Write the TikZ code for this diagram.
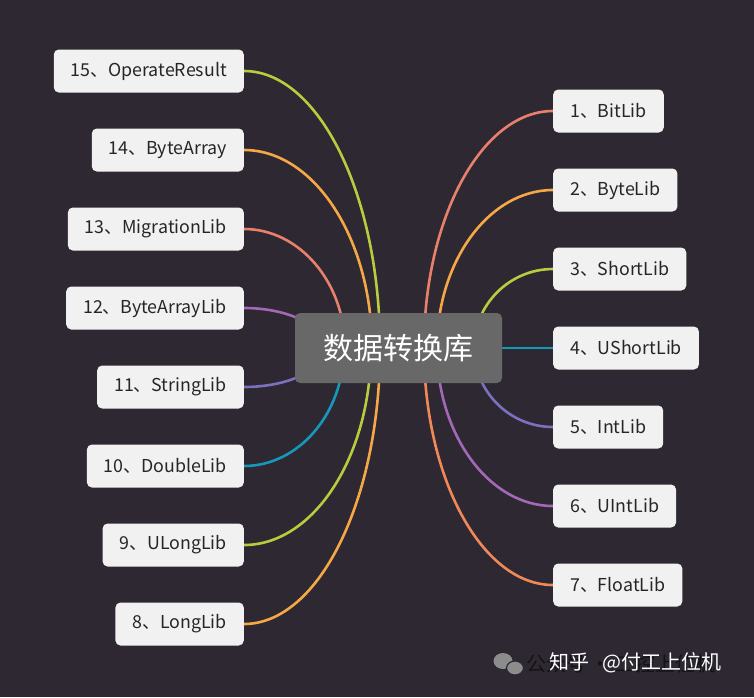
\documentclass[tikz,border=0pt]{standalone}
\usepackage{fontspec}
\usetikzlibrary{calc}
\newfontfamily\cjk{Noto Sans CJK SC}
\definecolor{bgdark}{RGB}{45,40,49}
\definecolor{leafgray}{RGB}{241,241,241}
\definecolor{rootgray}{RGB}{104,104,104}
\definecolor{cSalmon}{RGB}{233,128,108}
\definecolor{cOrange}{RGB}{246,168,70}
\definecolor{cGreen}{RGB}{181,205,62}
\definecolor{cCyan}{RGB}{22,152,185}
\definecolor{cPurple}{RGB}{164,104,182}
\definecolor{cLavender}{RGB}{124,112,192}
\definecolor{cCoral}{RGB}{240,136,88}
\pgfdeclarelayer{back}
\pgfdeclarelayer{edges}
\pgfsetlayers{back,edges,main}
% quarter-ellipse branch: leaf anchor -> hub point
\newcommand{\branch}[3]{%
  \draw[link,#1] (#2) .. controls ($(#2)!0.55!(#2 -| #3)$) and ($(#3)!0.55!(#2 -| #3)$) .. (#3);}

\begin{document}
\begin{tikzpicture}[x=1pt,y=-1pt,
    leaf/.style={fill=leafgray, rounded corners=5pt, minimum height=43pt, inner xsep=17pt,
      text=black!85, font=\cjk\fontsize{17.8}{20}\selectfont},
    root/.style={fill=rootgray, rounded corners=5pt, minimum width=207pt, minimum height=70pt,
      text=white, font=\cjk\fontsize{30}{34}\selectfont},
    link/.style={line width=2.6pt}]
  \begin{pgfonlayer}{back}
    \fill[bgdark] (0,0) rectangle (754,697);
  \end{pgfonlayer}
  \useasboundingbox (0,0) rectangle (754,697);

  \node[root] (root) at (398.5,348) {数据转换库};

  \node[leaf, anchor=east] (n15) at (244,71) {15、OperateResult};
  \node[leaf, anchor=east] (n14) at (244,150) {14、ByteArray};
  \node[leaf, anchor=east] (n13) at (244,229) {13、MigrationLib};
  \node[leaf, anchor=east] (n12) at (244,308) {12、ByteArrayLib};
  \node[leaf, anchor=east] (n11) at (244,387) {11、StringLib};
  \node[leaf, anchor=east] (n10) at (244,466) {10、DoubleLib};
  \node[leaf, anchor=east] (n9) at (244,545) {9、ULongLib};
  \node[leaf, anchor=east] (n8) at (244,624) {8、LongLib};

  \node[leaf, anchor=west] (n1) at (553,111) {1、BitLib};
  \node[leaf, anchor=west] (n2) at (553,190) {2、ByteLib};
  \node[leaf, anchor=west] (n3) at (553,269) {3、ShortLib};
  \node[leaf, anchor=west] (n4) at (553,348) {4、UShortLib};
  \node[leaf, anchor=west] (n5) at (553,427) {5、IntLib};
  \node[leaf, anchor=west] (n6) at (553,506) {6、UIntLib};
  \node[leaf, anchor=west] (n7) at (553,585) {7、FloatLib};

  % hub points behind the root
  \coordinate (h15) at (380,348);
  \coordinate (h14) at (372,348);
  \coordinate (h13) at (345,348);
  \coordinate (h12) at (325,348);
  \coordinate (h11) at (325,348);
  \coordinate (h10) at (344,348);
  \coordinate (h9) at (371,348);
  \coordinate (h8) at (380,348);
  \coordinate (h1) at (424,348);
  \coordinate (h2) at (437,348);
  \coordinate (h3) at (474,348);
  \coordinate (h5) at (474,348);
  \coordinate (h6) at (437,348);
  \coordinate (h7) at (424,348);

  \begin{pgfonlayer}{edges}
    \branch{cGreen}{n15.east}{h15}
    \branch{cOrange}{n14.east}{h14}
    \branch{cSalmon}{n13.east}{h13}
    \branch{cPurple}{n12.east}{h12}
    \branch{cLavender}{n11.east}{h11}
    \branch{cCyan}{n10.east}{h10}
    \branch{cGreen}{n9.east}{h9}
    \branch{cOrange}{n8.east}{h8}
    \branch{cSalmon}{n1.west}{h1}
    \branch{cOrange}{n2.west}{h2}
    \branch{cGreen}{n3.west}{h3}
    \draw[link, cCyan] (root.east) -- (n4.west);
    \branch{cLavender}{n5.west}{h5}
    \branch{cPurple}{n6.west}{h6}
    \branch{cCoral}{n7.west}{h7}
  \end{pgfonlayer}

  % watermark
  \fill[black!45] (503,661) ellipse (9.5 and 8);
  \filldraw[black!45, draw=bgdark, line width=1.2pt] (515,668) ellipse (8.5 and 7);
  \node[anchor=west, inner sep=0pt, text=black!55!bgdark, font=\cjk\fontsize{20}{22}\selectfont]
    (wmgray) at (526,664) {公众号 · 工控上位机};
  \node[anchor=west, inner sep=0pt, text=white, font=\cjk\fontsize{20}{22}\selectfont]
    (wmzh) at (549,663) {知乎\hspace{13pt}@付工上位机};
\end{tikzpicture}
\end{document}
